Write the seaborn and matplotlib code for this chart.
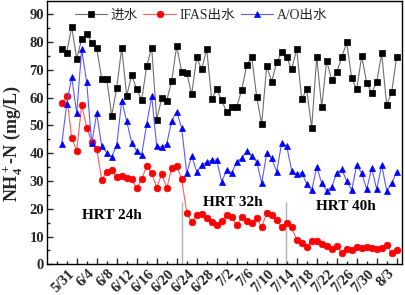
import matplotlib
matplotlib.use("Agg")
import matplotlib.pyplot as plt
import matplotlib.dates as mdates
import seaborn as sns
import pandas as pd
from matplotlib.ticker import MultipleLocator, FixedLocator

# ---------------- data ----------------
start_date = "2018-05-28"
n_days = 68

influent = [77.4, 76.2, 85.5, 74.0, 81.1, 82.8, 79.8, 77.9, 66.8, 66.8,
            53.5, 63.4, 77.9, 60.7, 68.1, 63.0, 59.2, 71.4, 78.0, 52.1,
            59.8, 58.9, 66.0, 78.6, 69.3, 69.0, 61.2, 74.5, 70.2, 77.5,
            59.4, 63.0, 59.1, 54.7, 56.7, 56.7, 62.7, 71.7, 74.7, 60.3,
            50.5, 71.4, 65.8, 72.7, 76.3, 74.5, 70.2, 77.5, 59.4, 63.0,
            49.2, 74.7, 56.7, 73.3, 66.3, 69.1, 74.5, 79.9, 67.0, 63.0,
            74.9, 65.4, 61.6, 65.7, 75.9, 57.3, 62.1, 74.7]

ifas = [57.9, 60.6, 45.6, 40.9, 57.3, 49.2, 44.1, 41.5, 30.5, 33.2,
        34.0, 31.3, 31.8, 31.2, 30.6, 27.4, 30.6, 35.5, 32.8, 27.6,
        32.5, 27.4, 34.6, 35.4, 30.6, 18.6, 15.3, 17.7, 18.1, 16.6,
        15.3, 14.1, 15.7, 17.7, 16.9, 14.1, 16.9, 15.7, 14.8, 16.6,
        13.3, 18.6, 17.6, 15.9, 13.3, 15.0, 13.3, 8.7, 7.8, 6.1,
        8.5, 8.5, 7.3, 6.6, 5.4, 6.6, 4.2, 5.4, 5.2, 6.1,
        5.7, 6.1, 5.7, 5.4, 5.7, 6.9, 4.2, 5.2]

ao = [43.3, 57.6, 67.5, 54.4, 77.4, 65.5, 43.5, 54.4, 42.5, 40.2,
      38.7, 42.8, 58.9, 51.5, 43.8, 40.8, 39.5, 50.5, 60.6, 42.5,
      42.1, 43.3, 51.7, 54.9, 49.0, 32.8, 39.0, 33.3, 35.7, 36.9,
      37.5, 37.5, 29.7, 33.9, 32.8, 36.9, 38.2, 40.7, 39.0, 36.9,
      29.2, 39.9, 38.2, 33.3, 43.8, 42.6, 33.6, 32.5, 33.0, 29.0,
      26.6, 35.1, 29.2, 26.5, 27.9, 32.8, 34.2, 30.0, 26.7, 35.7,
      32.8, 27.0, 34.6, 27.0, 35.7, 26.5, 29.2, 33.3]

series_names = ["进水", "IFAS出水", "A/O出水"]
tick_labels = ["5/31", "6/4", "6/8", "6/12", "6/16", "6/20", "6/24", "6/28",
               "7/2", "7/6", "7/10", "7/14", "7/18", "7/22", "7/26", "7/30", "8/3"]
hrt_labels = ["HRT 24h", "HRT 32h", "HRT 40h"]
hrt_boundaries = ["2018-06-21 02:00", "2018-07-11 20:00"]

# ---------------- style ----------------
sns.set_style("ticks")
plt.rcParams["font.family"] = ["Liberation Serif", "Noto Sans CJK SC"]
plt.rcParams["mathtext.fontset"] = "custom"
plt.rcParams["mathtext.rm"] = "Liberation Serif:bold"
plt.rcParams["mathtext.bf"] = "Liberation Serif:bold"
plt.rcParams["mathtext.it"] = "Liberation Serif:bold"
plt.rcParams["mathtext.default"] = "bf"

dates = pd.date_range(start_date, periods=n_days, freq="D")
df = pd.DataFrame({"date": dates, "in": influent, "ifas": ifas, "ao": ao})

fig = plt.figure(figsize=(4.05, 2.95), dpi=100)
ax = fig.add_axes([47 / 405, 1 - 264.3 / 295, 355 / 405, 263.3 / 295])

sns.lineplot(data=df, x="date", y="in", ax=ax, color="#6e6e6e", lw=0.8,
             marker="s", markersize=4.3, markerfacecolor="black",
             markeredgecolor="black", markeredgewidth=0.5, label=series_names[0])
sns.lineplot(data=df, x="date", y="ifas", ax=ax, color="#ff5a5a", lw=0.8,
             marker="o", markersize=4.8, markerfacecolor="#ff0000",
             markeredgecolor="#ff0000", markeredgewidth=0.5, label=series_names[1])
sns.lineplot(data=df, x="date", y="ao", ax=ax, color="#5a5aff", lw=0.8,
             marker="^", markersize=5.0, markerfacecolor="#0000ff",
             markeredgecolor="#0000ff", markeredgewidth=0.5, label=series_names[2])

base = pd.Timestamp("2018-05-31")
for b in hrt_boundaries:
    ax.vlines(pd.Timestamp(b), 0, 22.5, color="#b0b0b0", lw=1.0, zorder=1)

hrt_pos = [(7.06, 17.7), (31.16, 22.2), (53.76, 20.7)]
for lab, (d, v) in zip(hrt_labels, hrt_pos):
    ax.text(base + pd.Timedelta(days=d), v, lab, ha="center", va="center",
            fontsize=11, fontweight="bold", color="black")

ax.set_xlim(base - pd.Timedelta(days=5.94), base + pd.Timedelta(days=65.06))
ax.set_ylim(0, 94.8)

major_dates = [base + pd.Timedelta(days=4 * i) for i in range(len(tick_labels))]
ax.set_xticks(major_dates)
ax.set_xticklabels(tick_labels, rotation=45, ha="right", fontsize=10.5,
                   fontweight="bold")
minor_dates = [base + pd.Timedelta(days=2 * i) for i in range(-2, 34)]
ax.xaxis.set_minor_locator(FixedLocator(mdates.date2num(minor_dates)))

ax.yaxis.set_major_locator(MultipleLocator(10))
ax.yaxis.set_minor_locator(MultipleLocator(5))
for t in ax.get_yticklabels():
    t.set_fontweight("bold")
    t.set_fontsize(10.5)

ax.tick_params(which="major", direction="in", length=4.5, width=1.0, pad=2)
ax.tick_params(which="minor", direction="in", length=2.5, width=1.0)
for s in ax.spines.values():
    s.set_visible(True)
    s.set_linewidth(1.0)
    s.set_color("black")

ax.set_xlabel("")
ax.set_ylabel(r"NH$_4^+$-N (mg/L)", fontsize=13, fontweight="bold")
ax.yaxis.set_label_coords(-0.066, 0.457)

leg = ax.legend(loc="upper left", bbox_to_anchor=(0.055, 1.0), ncol=3,
                frameon=False, fontsize=9.8, handlelength=2.4,
                handletextpad=0.25, columnspacing=0.4, borderaxespad=0.2)

fig.savefig("out.png", dpi=100)
